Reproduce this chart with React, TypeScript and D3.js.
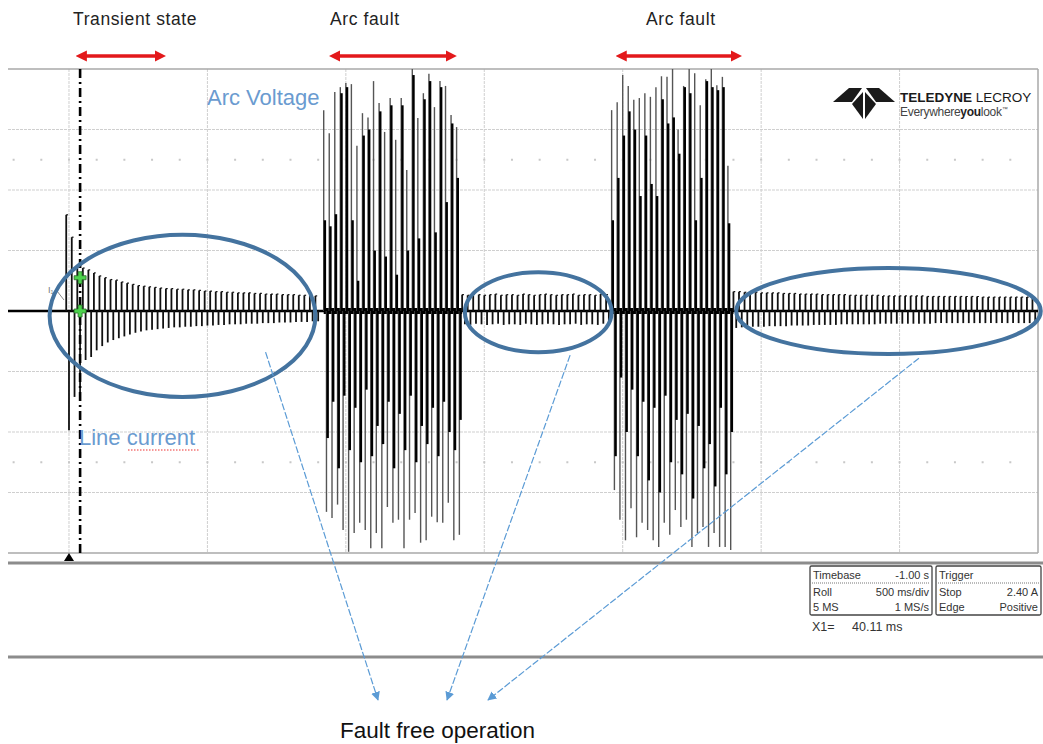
import * as d3 from "d3";

// one spike per 50 Hz cycle
const PERIOD = 0.02;
const T_MIN = -0.2203;
const T_MAX = 3.5;

// values in screen divisions (peak up / peak down)
const transientStart = -0.01;
const transientUp = [1.59, 1.22, 0.73, 0.71, 0.68, 0.63, 0.58, 0.55, 0.52, 0.51, 0.48, 0.46, 0.44, 0.42, 0.41, 0.40, 0.39, 0.38, 0.37, 0.37, 0.36, 0.36, 0.35, 0.35, 0.34, 0.33, 0.33, 0.32, 0.32, 0.31, 0.31, 0.30, 0.30, 0.30, 0.29, 0.29, 0.28, 0.28, 0.28, 0.27, 0.27, 0.27, 0.26, 0.26, 0.26, 0.25];
const transientDown = [1.97, 1.42, 1.44, 0.81, 0.76, 0.65, 0.58, 0.52, 0.48, 0.45, 0.42, 0.39, 0.36, 0.34, 0.32, 0.31, 0.30, 0.29, 0.28, 0.27, 0.27, 0.26, 0.26, 0.25, 0.25, 0.24, 0.24, 0.23, 0.23, 0.22, 0.22, 0.22, 0.21, 0.21, 0.21, 0.20, 0.20, 0.20, 0.19, 0.19, 0.19, 0.18, 0.18, 0.18, 0.17, 0.17];

const arc1Start = 0.92;
const arc1Up = [3.32, 2.94, 3.62, 3.7, 3.77, 3.75, 2.73, 3.27, 3.2, 3.8, 3.44, 2.96, 3.52, 2.83, 3.52, 2.33, 4.0, 3.19, 3.6, 3.92, 3.37, 3.8, 3.72, 3.24, 3.04];
const arc1UpCore = [1.5, 1.4, 1.6, 3.6, 3.7, 1.5, 0.5, 2.9, 3.0, 1.0, 3.3, 0.9, 3.4, 0.6, 3.4, 1.0, 3.9, 1.2, 3.5, 3.8, 1.3, 3.7, 1.8, 3.1, 2.2];
const arc1Down = [3.32, 3.42, 3.2, 3.62, 3.98, 3.67, 3.5, 3.62, 3.92, 3.67, 3.92, 3.24, 3.5, 3.45, 3.92, 3.45, 3.34, 3.83, 3.79, 3.4, 3.49, 3.5, 3.17, 3.79, 3.7];
const arc1DownCore = [2.1, 1.5, 2.6, 1.4, 2.3, 1.6, 2.5, 1.3, 2.4, 1.9, 2.2, 1.5, 2.6, 1.7, 2.3, 1.4, 2.5, 1.9, 2.2, 1.6, 2.4, 1.5, 2.0, 2.3, 1.8];

const calm1Start = 1.42;
const calm1Up = [0.27, 0.26, 0.28, 0.27, 0.26, 0.27, 0.28, 0.26, 0.27, 0.27, 0.26, 0.28, 0.27, 0.26, 0.27, 0.28, 0.27, 0.26, 0.27, 0.27, 0.28, 0.26, 0.27, 0.27, 0.26, 0.28, 0.27];
const calm1Down = [0.22, 0.23, 0.21, 0.22, 0.23, 0.22, 0.21, 0.23, 0.22, 0.22, 0.23, 0.21, 0.22, 0.23, 0.22, 0.21, 0.22, 0.23, 0.22, 0.22, 0.21, 0.23, 0.22, 0.22, 0.23, 0.21, 0.22];

const arc2Start = 1.96;
const arc2Up = [3.32, 3.45, 3.9, 3.72, 3.49, 3.52, 3.6, 3.54, 3.7, 3.88, 3.87, 4.0, 3.0, 3.72, 4.0, 3.93, 3.4, 3.83, 4.0, 3.73, 3.87, 2.4];
const arc2UpCore = [1.5, 2.2, 2.9, 3.3, 3.0, 1.9, 2.9, 2.1, 1.9, 3.5, 3.1, 3.2, 2.6, 3.7, 3.6, 1.5, 2.2, 3.8, 3.7, 3.65, 3.7, 1.45];
const arc2Down = [2.96, 3.45, 3.79, 3.26, 3.74, 3.5, 3.62, 3.79, 3.9, 3.5, 3.7, 3.29, 3.57, 3.45, 3.9, 3.67, 3.57, 3.9, 3.67, 3.9, 3.9, 3.95];
const arc2DownCore = [2.4, 1.1, 2.0, 1.3, 2.4, 1.5, 2.8, 1.6, 3.0, 1.4, 2.5, 1.8, 2.7, 1.7, 3.1, 1.9, 2.6, 2.2, 2.9, 1.6, 2.7, 2.0];

const calm2Start = 2.4;
const calm2Up = [0.32, 0.32, 0.31, 0.31, 0.31, 0.30, 0.30, 0.30, 0.30, 0.29, 0.29, 0.29, 0.28, 0.28, 0.28, 0.28, 0.27, 0.27, 0.27, 0.27, 0.27, 0.26, 0.26, 0.26, 0.26, 0.26, 0.26, 0.25, 0.25, 0.25, 0.25, 0.25, 0.25, 0.25, 0.25, 0.24, 0.24, 0.24, 0.24, 0.24, 0.24, 0.24, 0.24, 0.24, 0.24, 0.23, 0.23, 0.23, 0.23, 0.23, 0.23, 0.23, 0.23, 0.23, 0.23];
const calm2Down = [0.28, 0.27, 0.27, 0.26, 0.26, 0.26, 0.25, 0.25, 0.25, 0.25, 0.24, 0.24, 0.24, 0.24, 0.23, 0.23, 0.23, 0.23, 0.23, 0.22, 0.22, 0.22, 0.22, 0.22, 0.22, 0.22, 0.21, 0.21, 0.21, 0.21, 0.21, 0.21, 0.21, 0.21, 0.21, 0.21, 0.20, 0.20, 0.20, 0.20, 0.20, 0.20, 0.20, 0.20, 0.20, 0.20, 0.20, 0.20, 0.20, 0.20, 0.20, 0.20, 0.20, 0.20, 0.20];

const gridTimes = [0, 0.5, 1, 1.5, 2, 2.5, 3];
const gridDivs = [-3, -2, -1, 1, 2, 3];
const minorTimes = d3.range(-0.2, 3.45, 0.1);
const minorRows = [2.5, 0, -2.5];

const faultLabels = [
  { text: "Transient state", x: 73, from: 0.015, to: 0.36 },
  { text: "Arc fault", x: 330, from: 0.93, to: 1.41 },
  { text: "Arc fault", x: 646, from: 1.965, to: 2.44 },
];

const zones = [
  { from: -0.07, to: 0.89, cy: -0.08, ry: 1.34 },
  { from: 1.43, to: 1.96, cy: -0.02, ry: 0.66 },
  { from: 2.41, to: 3.51, cy: 0.0, ry: 0.71 },
];
const pointers = [
  { t: 0.71, v: -0.68 },
  { t: 1.81, v: -0.73 },
  { t: 3.07, v: -0.78 },
];
const pointerTips = [378, 447, 488];

const timebaseRows = [["Timebase", "-1.00 s"], ["Roll", "500 ms/div"], ["5 MS", "1 MS/s"]];
const triggerRows = [["Trigger", ""], ["Stop", "2.40 A"], ["Edge", "Positive"]];

type Segment = { start: number; up: number[]; down: number[]; upCore?: number[]; downCore?: number[] };
const segments: Segment[] = [
  { start: transientStart, up: transientUp, down: transientDown },
  { start: arc1Start, up: arc1Up, down: arc1Down, upCore: arc1UpCore, downCore: arc1DownCore },
  { start: calm1Start, up: calm1Up, down: calm1Down },
  { start: arc2Start, up: arc2Up, down: arc2Down, upCore: arc2UpCore, downCore: arc2DownCore },
  { start: calm2Start, up: calm2Up, down: calm2Down },
];

const sans = "'Liberation Sans', Arial, sans-serif";
const narrow = "'Liberation Sans Narrow', 'Arial Narrow', 'Liberation Sans', sans-serif";
const blue = "#6a9bd0";
const ring = "#44739f";

export default function App() {
  const width = 1043;
  const height = 744;
  const x = d3.scaleLinear().domain([T_MIN, T_MAX]).range([8, 1038]);
  const y = d3.scaleLinear().domain([-4, 4]).range([553, 69]);
  const y0 = y(0);

  const spikes: JSX.Element[] = [];
  segments.forEach((s, si) => {
    s.up.forEach((v, i) => {
      const t = s.start + i * PERIOD;
      const px = x(t);
      if (s.upCore) {
        spikes.push(<line key={`u${si}-${i}`} x1={px} x2={px} y1={y0} y2={y(v)} stroke="#555" strokeWidth={1.4} />);
        spikes.push(<line key={`uc${si}-${i}`} x1={px + 1.2} x2={px + 1.2} y1={y0} y2={y(s.upCore[i])} stroke="#000" strokeWidth={2.4} />);
      } else {
        spikes.push(<line key={`u${si}-${i}`} x1={px} x2={px} y1={y0} y2={y(v)} stroke="#111" strokeWidth={1.8} />);
        spikes.push(<line key={`us${si}-${i}`} x1={px} x2={px + 1.8} y1={y(v)} y2={y(v)} stroke="#111" strokeWidth={1.2} />);
      }
    });
    s.down.forEach((v, i) => {
      const t = s.start + i * PERIOD + PERIOD / 2;
      const px = x(t);
      if (s.downCore) {
        spikes.push(<line key={`d${si}-${i}`} x1={px} x2={px} y1={y0} y2={y(-v)} stroke="#555" strokeWidth={1.4} />);
        spikes.push(<line key={`dc${si}-${i}`} x1={px + 1.2} x2={px + 1.2} y1={y0} y2={y(-s.downCore[i])} stroke="#000" strokeWidth={2.4} />);
      } else {
        spikes.push(<line key={`d${si}-${i}`} x1={px} x2={px} y1={y0} y2={y(-v)} stroke="#111" strokeWidth={1.8} />);
      }
    });
  });

  const cursorX = x(0.04011);

  return (
    <div style={{ position: "absolute", left: 0, top: 0 }}>
      <svg width={width} height={height} style={{ display: "block", background: "#fff" }}>
        <defs>
          <clipPath id="plot">
            <rect x={8} y={69} width={1030} height={484} />
          </clipPath>
          <marker id="red" viewBox="0 0 10 10" refX={6} refY={5} markerWidth={3.2} markerHeight={3.2} orient="auto-start-reverse">
            <path d="M0,0 L10,5 L0,10 Z" fill="#e3191b" />
          </marker>
          <marker id="blueHead" viewBox="0 0 10 10" refX={9} refY={5} markerWidth={9} markerHeight={9} markerUnits="userSpaceOnUse" orient="auto">
            <path d="M0,0 L10,5 L0,10 Z" fill="#5b9bd5" />
          </marker>
        </defs>

        {/* grid */}
        <g stroke="#cfcfcf" strokeWidth={1} strokeDasharray="3,1">
          {gridTimes.map((t) => (
            <line key={`gv${t}`} x1={x(t)} x2={x(t)} y1={69} y2={553} />
          ))}
          {gridDivs.map((d) => (
            <line key={`gh${d}`} x1={8} x2={1038} y1={y(d)} y2={y(d)} />
          ))}
        </g>
        <g fill="#c8c8c8">
          {minorRows.map((r) =>
            minorTimes.map((t) => <rect key={`m${r}-${t}`} x={x(t) - 1} y={y(r) - 1} width={2} height={2} />)
          )}
        </g>
        <g stroke="#a8a8a8" strokeWidth={1.5} fill="none">
          <line x1={8} x2={1038} y1={69} y2={69} />
          <line x1={1038} x2={1038} y1={69} y2={553} />
          <line x1={8} x2={1038} y1={553} y2={553} />
        </g>
        <line x1={8} x2={1043} y1={563} y2={563} stroke="#8c8c8c" strokeWidth={3} />
        <line x1={8} x2={1043} y1={657} y2={657} stroke="#8c8c8c" strokeWidth={3} />

        {/* waveform */}
        <g clipPath="url(#plot)">
          <line x1={8} x2={1038} y1={y0} y2={y0} stroke="#000" strokeWidth={2.5} />
          <line x1={x(arc1Start)} x2={x(arc1Start + arc1Up.length * PERIOD)} y1={y0} y2={y0} stroke="#000" strokeWidth={6} />
          <line x1={x(arc2Start)} x2={x(arc2Start + arc2Up.length * PERIOD)} y1={y0} y2={y0} stroke="#000" strokeWidth={6} />
          {spikes}
        </g>

        {/* cursor and markers */}
        <line x1={cursorX} x2={cursorX} y1={69} y2={553} stroke="#000" strokeWidth={2.6} strokeDasharray="9,4,2,4" />
        <path d={`M${x(0) - 5},${561} L${x(0)},${553} L${x(0) + 5},${561} Z`} fill="#000" />
        {[0.55, 0].map((v) => (
          <g key={`cr${v}`} transform={`translate(${cursorX},${y(v)})`}>
            <path d="M-2,-6 H2 V-2 H6 V2 H2 V6 H-2 V2 H-6 V-2 H-2 Z" fill="#4cd24c" stroke="#2a6a2a" strokeWidth={0.8} />
          </g>
        ))}
        <text x={48} y={293} fontFamily={sans} fontSize={9} fill="#777">I₁</text>
        <line x1={57} x2={64} y1={291} y2={300} stroke="#888" strokeWidth={1} />

        {/* top labels and red arrows */}
        {faultLabels.map((f, i) => (
          <g key={`f${i}`}>
            <text x={f.x} y={25} fontFamily={sans} fontSize={17.5} letterSpacing={0.6} fill="#222">{f.text}</text>
            <line x1={x(f.from) + 7} x2={x(f.to) - 7} y1={56} y2={56} stroke="#e3191b" strokeWidth={3.5} markerStart="url(#red)" markerEnd="url(#red)" />
          </g>
        ))}

        <text x={207} y={105} fontFamily={sans} fontSize={22} fill={blue}>Arc Voltage</text>
        <text x={79} y={445} fontFamily={sans} fontSize={22} fill={blue}>Line current</text>
        <line x1={128} x2={199} y1={450} y2={450} stroke="#e33" strokeWidth={1.2} strokeDasharray="1.5,1.5" />

        {/* fault-free rings */}
        <g fill="none" stroke={ring} strokeWidth={4}>
          {zones.map((z, i) => (
            <ellipse key={`z${i}`} cx={(x(z.from) + x(z.to)) / 2} cy={y(z.cy)} rx={(x(z.to) - x(z.from)) / 2} ry={z.ry * 60.5} />
          ))}
        </g>
        <g stroke="#5b9bd5" strokeWidth={1.2} strokeDasharray="7,2">
          {pointers.map((p, i) => (
            <line key={`p${i}`} x1={x(p.t)} y1={y(p.v)} x2={pointerTips[i]} y2={700} markerEnd="url(#blueHead)" />
          ))}
        </g>
        <text x={340} y={738} fontFamily={sans} fontSize={22.5} fill="#111">Fault free operation</text>

        {/* logo */}
        <g fill="#1a1a1a">
          <path d="M833,102 L849,88 L862,88 L852,102 Z" />
          <path d="M895,102 L879,88 L866,88 L876,102 Z" />
          <path d="M852,104 L863,92 L863,119 Z" />
          <path d="M876,104 L865,92 L865,119 Z" />
        </g>
        <text x={900} y={102} fontFamily={sans} fontSize={13.5} fill="#1a1a1a">
          <tspan fontWeight="bold">TELEDYNE</tspan>
          <tspan> LECROY</tspan>
        </text>
        <text x={900} y={116} fontFamily={sans} fontSize={12} fill="#444" letterSpacing={-0.3}>
          <tspan>Everywhere</tspan>
          <tspan fontWeight="bold" fill="#222">you</tspan>
          <tspan>look</tspan>
          <tspan fontSize={6} dy={-5}>™</tspan>
        </text>

        {/* info panel */}
        <g fontFamily={narrow} fontSize={11} fill="#333">
          <rect x={810} y={566} width={122} height={49} fill="#fff" stroke="#444" strokeWidth={1.3} rx={1.5} />
          <rect x={936} y={566} width={105} height={49} fill="#fff" stroke="#444" strokeWidth={1.3} rx={1.5} />
          <line x1={812} x2={930} y1={583} y2={583} stroke="#777" strokeDasharray="1,1" />
          <line x1={938} x2={1039} y1={583} y2={583} stroke="#777" strokeDasharray="1,1" />
          {timebaseRows.map((r, i) => (
            <g key={`tb${i}`}>
              <text x={813} y={579 + (i === 0 ? 0 : 17 + (i - 1) * 15)}>{r[0]}</text>
              <text x={929} y={579 + (i === 0 ? 0 : 17 + (i - 1) * 15)} textAnchor="end">{r[1]}</text>
            </g>
          ))}
          {triggerRows.map((r, i) => (
            <g key={`tr${i}`}>
              <text x={939} y={579 + (i === 0 ? 0 : 17 + (i - 1) * 15)}>{r[0]}</text>
              <text x={1038} y={579 + (i === 0 ? 0 : 17 + (i - 1) * 15)} textAnchor="end">{r[1]}</text>
            </g>
          ))}
          <text x={812} y={631} fontSize={12.5}>X1=</text>
          <text x={852} y={631} fontSize={12.5}>40.11 ms</text>
        </g>
      </svg>
    </div>
  );
}
